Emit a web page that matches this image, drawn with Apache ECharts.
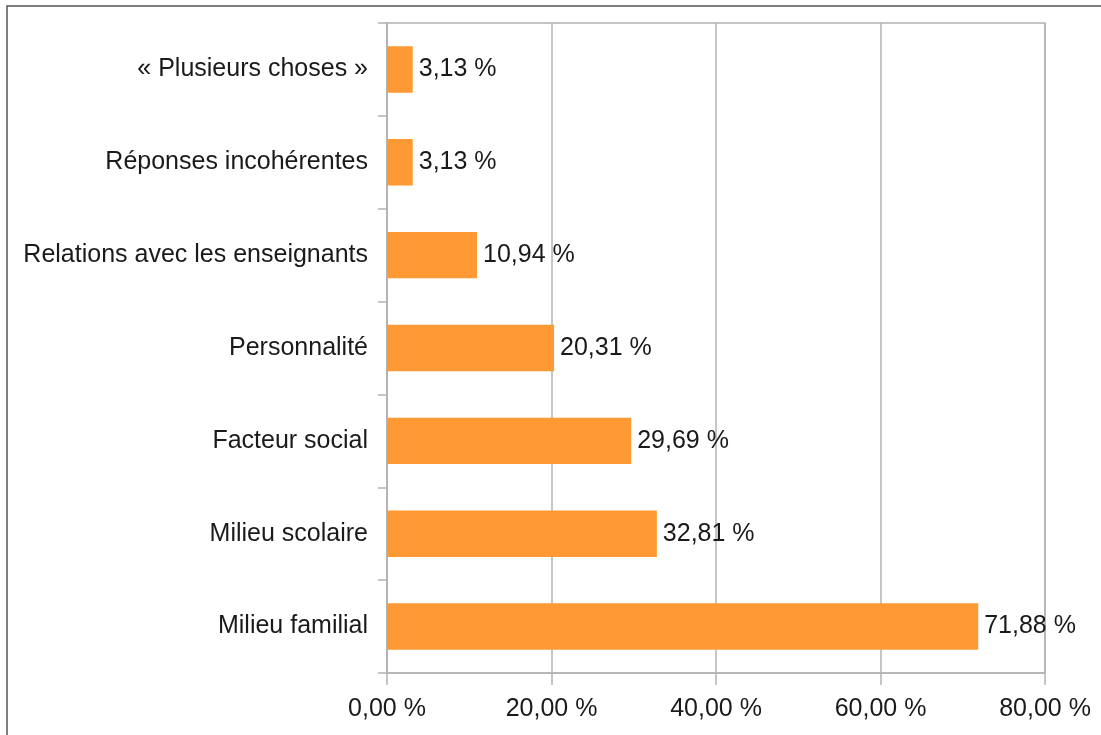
<!DOCTYPE html>
<html>
<head>
<meta charset="utf-8">
<title>Répartition des réponses</title>
<script src="https://cdn.jsdelivr.net/npm/echarts@6/dist/echarts.min.js"></script>
<style>
    html, body { margin: 0; padding: 0; background: #fff; }
    #chart { width: 1101px; height: 735px; }
</style>
</head>
<body>
<div id="chart"></div>
<script>
;(function () {
    'use strict';

    // catégories (de bas en haut)
    var categories = [
        'Milieu familial',
        'Milieu scolaire',
        'Facteur social',
        'Personnalité',
        'Relations avec les enseignants',
        'Réponses incohérentes',
        '« Plusieurs choses »'
    ];
    // pourcentages
    var values = [71.88, 32.81, 29.69, 20.31, 10.94, 3.13, 3.13];
    // axe des x
    var xTicks = [0, 20, 40, 60, 80];

    var font = '"Liberation Sans Narrow", "Liberation Sans", Arial, sans-serif';
    var fontSize = 25;
    var textColor = '#1a1a1a';
    var gridColor = '#b3b3b3';

    function pct(v) {
        return v.toFixed(2).replace('.', ',') + ' %';
    }

    var option = {
        backgroundColor: '#fff',
        animation: false,
        textStyle: { fontFamily: font },
        graphic: [{
            type: 'rect',
            shape: { x: 7, y: 6, width: 1300, height: 1000 },
            style: { fill: 'none', stroke: '#555', lineWidth: 1.5 },
            silent: true
        }],
        grid: {
            left: 387,
            right: 56,
            top: 23,
            bottom: 62,
            containLabel: false,
            outerBoundsMode: 'none',
            show: true,
            borderColor: gridColor,
            borderWidth: 1.5
        },
        xAxis: {
            type: 'value',
            min: xTicks[0],
            max: xTicks[xTicks.length - 1],
            interval: 20,
            axisLine: { show: true, lineStyle: { color: gridColor, width: 1.5 } },
            axisTick: { show: true, length: 12, lineStyle: { color: gridColor, width: 1.5 } },
            splitLine: { show: true, lineStyle: { color: gridColor, width: 1.5 } },
            axisLabel: {
                margin: 24,
                color: textColor,
                fontSize: fontSize,
                fontFamily: font,
                formatter: function (v) { return pct(v); }
            }
        },
        yAxis: {
            type: 'category',
            data: categories,
            axisLine: { show: true, lineStyle: { color: gridColor, width: 1.5 } },
            axisTick: { show: true, length: 9, lineStyle: { color: gridColor, width: 1.5 } },
            axisLabel: {
                margin: 19,
                color: textColor,
                fontSize: fontSize,
                fontFamily: font
            }
        },
        series: [{
            type: 'bar',
            data: values,
            barWidth: '50%',
            itemStyle: { color: '#ff9933' },
            label: {
                show: true,
                position: 'right',
                distance: 6,
                color: textColor,
                fontSize: fontSize,
                fontFamily: font,
                formatter: function (p) { return pct(p.value); }
            }
        }]
    };

    var chart = echarts.init(document.getElementById('chart'));
    chart.setOption(option);
})();
</script>
</body>
</html>
